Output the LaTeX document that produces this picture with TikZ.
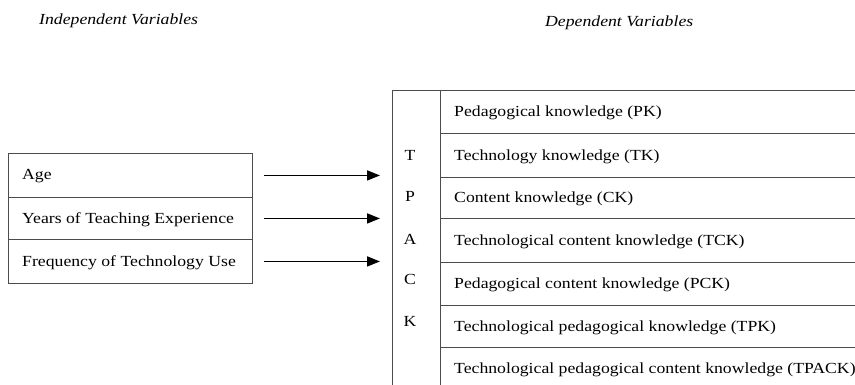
\documentclass[tikz,border=0pt]{standalone}
\usepackage{fontspec}
\setmainfont{Liberation Serif}[FakeStretch=1.15]
\usetikzlibrary{arrows.meta}
\tikzset{
  grid/.style={draw=black!70, line width=0.9pt},
  cell/.style={anchor=west, inner sep=0pt, yshift=-1.5pt, font=\fontsize{15.4}{18}\selectfont},
  letter/.style={anchor=center, inner sep=0pt, font=\fontsize{15.4}{18}\selectfont},
  heading/.style={anchor=west, inner sep=0pt, font=\fontsize{15.4}{18}\selectfont\itshape},
  flow/.style={line width=1.6pt, -{Triangle[length=13pt,width=10pt]}},
  box/.style={grid, rectangle, anchor=north west, inner sep=0pt, minimum width=244pt}
}
\begin{document}
\begin{tikzpicture}[x=1pt,y=-1pt]
\useasboundingbox (0,0) rectangle (855,385);
% headings
\node[heading] (hind) at (39,21) {Independent Variables};
\node[heading] (hdep) at (545,23) {Dependent Variables};
% left table
\node[box, minimum height=44pt] (r1) at (8,153) {};
\node[box, minimum height=42pt] (r2) at (8,197) {};
\node[box, minimum height=44pt] (r3) at (8,239) {};
\node[cell] (age) at (22,175) {Age};
\node[cell] (yte) at (22,218) {Years of Teaching Experience};
\node[cell] (ftu) at (22,261) {Frequency of Technology Use};
% right table
\node[inner sep=0pt, minimum width=48pt, minimum height=295pt, anchor=north west] (tpack) at (392,90) {};
\draw[grid] (392,390) -- (392,90) -- (860,90);
\draw[grid] (440,90) -- (440,390);
\foreach \y in {133,177,218,262,305,347} \draw[grid] (440,\y) -- (860,\y);
\node[letter] (lt) at (410,155) {T};
\node[letter] (lp) at (410,196) {P};
\node[letter] (la) at (410,239) {A};
\node[letter] (lc) at (410,279) {C};
\node[letter] (lk) at (410,321) {K};
\node[cell] (pk) at (454,111.5) {Pedagogical knowledge (PK)};
\node[cell] (tk) at (454,155) {Technology knowledge (TK)};
\node[cell] (ck) at (454,197.5) {Content knowledge (CK)};
\node[cell] (tck) at (454,240) {Technological content knowledge (TCK)};
\node[cell] (pck) at (454,283.5) {Pedagogical content knowledge (PCK)};
\node[cell] (tpk) at (454,326) {Technological pedagogical knowledge (TPK)};
\node[cell] (tpck) at (454,368) {Technological pedagogical content knowledge (TPACK)};
% arrows
\draw[flow] ([xshift=11pt]r1.east) -- ([xshift=-12pt]tpack.west |- r1.east);
\draw[flow] ([xshift=11pt]r2.east) -- ([xshift=-12pt]tpack.west |- r2.east);
\draw[flow] ([xshift=11pt]r3.east) -- ([xshift=-12pt]tpack.west |- r3.east);
\end{tikzpicture}
\end{document}
